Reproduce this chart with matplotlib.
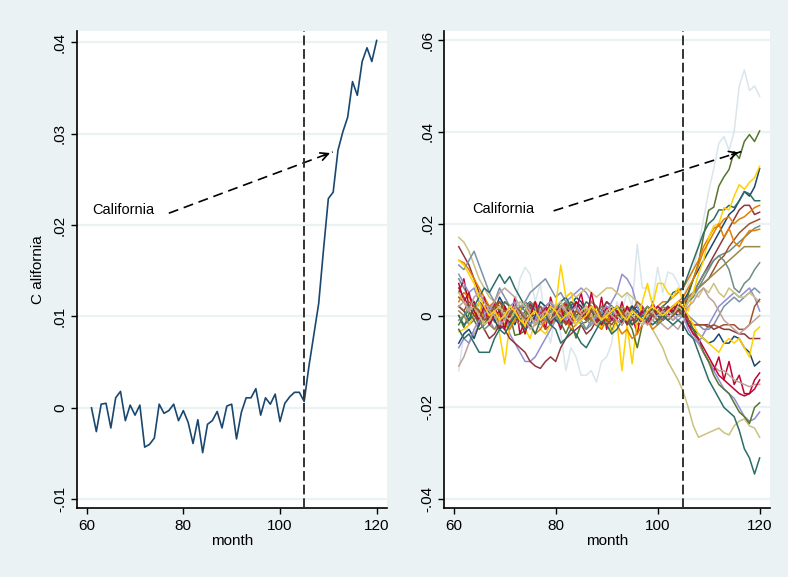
import numpy as np
import matplotlib
matplotlib.use("Agg")
import matplotlib.pyplot as plt

plt.rcParams['font.family'] = ['Liberation Sans', 'DejaVu Sans']

# months shown on both panels
month = np.arange(61, 121)
treat_month = 105

# values are in thousandths (0.001), months 61..104 then 105..120
california = [0, -2.6, 0.4, 0.5, -2.2, 1.1, 1.8, -1.4, 0.3, -0.8,
              0.3, -4.3, -4.0, -3.3, 0.4, -0.6, -0.3, 0.4, -1.4, -0.3,
              -1.6, -3.9, -1.3, -4.9, -1.8, -1.4, -0.4, -2.2, 0.2, 0.4,
              -3.4, -0.5, 1.1, 1.1, 2.1, -0.8, 1.1, 0.4, 1.5, -1.5,
              0.5, 1.2, 1.7, 1.7,
              0.7, 4.6, 8.0, 11.4, 17.3, 22.9, 23.6, 28.2, 30.2, 31.8, 35.7, 34.2, 37.9, 39.4, 37.9, 40.2]

bluishgray = [-12, -4, -2, 3, 1, -2, 2, -1, 4, 1,
              -3, 2, 8, 10.5, 9, 3, 7, -2, -6, 1,
              -4, -12, -7, -9, -13, -13, -12, -14.5, -10, -9,
              -6, 3, 1, 5, 2, 15.5, 6, 6, 3, 10.5,
              5, 9.5, 9, 7,
              4, 7, 10, 15, 21, 27, 32, 37.5, 39, 36, 40, 50, 53.5, 49, 50, 47.7]
gold1 = [-3.5, -3, -2, 0, 3, -2, -1, 1, -4, -10.5,
         -2, -1, 2, -3, -5, -1, -3, -4, -2, 2,
         11, 4, 5, 1, 0, 2, -2, 1, -3, 0,
         -4, -1, -12, -2, -10.5, -1, 3, 7, 2, 7,
         7, 5, 4, 6,
         3, 1, 5, 9, 12, 17, 19.5, 20, 23.5, 23, 26, 28.5, 27.5, 29, 30, 32.5]
gold2 = [12, 11, 9, 7, 4, 2, 0, 1, -1, 0,
         2, 1, -1, -2, 0, 1, -1, 0, 2, 1,
         -1, 0, 1, -2, -1, 0, 2, 1, -1, 0,
         1, 2, 0, -1, 1, 0, -1, 1, 2, 1,
         0, 1, 2, 3,
         2, 0, -2, -4, -5, -6, -7, -8, -6, -5, -6, -5, -7, -9, -3.5, -2.5]
navy1 = [2, 1, -1, 0, 3, 2, -1, 1, 4, 2,
         0, -2, 1, 3, 2, -1, 0, 2, 3, 1,
         -1, 0, 2, 4, 3, 1, -1, 0, 1, 3,
         2, -1, -2, 0, 1, 2, 0, -1, 1, 0,
         1, 2, 1, 2,
         3, 5, 8, 10, 12, 14, 16, 18, 20, 22, 23, 25, 27, 26, 28, 32]
navy2 = [-6, -4, -3, -5, -2, 0, 1, -1, -3, -2,
         0, 2, 1, -1, -2, 0, 3, 2, 1, -1,
         -2, 0, 1, 3, 2, 0, -1, -2, 0, 1,
         2, 1, -1, 0, 2, 1, -1, 0, 1, 0,
         -1, 0, 1, 0,
         0, -2, -3, -4, -5, -6, -5.5, -4, -6, -6, -4.5, -5, -7, -8, -11, -10]
emerald1 = [0, -2, -1, 2, 4, 6, 5, 7, 9, 7,
            8.5, 6, 4, 2, 3, 1, -1, 0, 2, 1,
            3, 4, 2, 0, 1, 3, 2, 0, -1, 1,
            0, 2, 1, -1, 0, 1, 0, 2, 1, 1,
            2, 3, 5, 5.5,
            6, 9, 12, 15, 18, 20, 21, 23, 23, 24, 23.5, 25, 27, 26.5, 25, 25]
emerald2 = [-3, -5, -4, -6, -8, -8, -8, -5, -3, -4,
            -2, 0, -1, -3, -2, -4, -1, 0, -2, -3,
            -6, -5, -3, -4, -6, -7, -5, -3, -1, -2,
            -4, -3, -1, 0, -2, -1, 0, -1, -2, -1,
            0, -1, -2, -1,
            -2, -4, -5, -8, -11, -14, -16, -18, -20, -21, -22, -25, -29, -31, -34.5, -31]
maroon1 = [15, 13, 11, 8, 5, 3, 2, 1, 3, 2,
           0, -1, 1, 2, 0, -2, -1, 1, 2, 0,
           1, -1, -2, 0, 1, 2, 0, -1, 1, 3,
           2, 0, -1, 1, 0, -2, -1, 0, 1, 0,
           2, 1, 2, 2,
           3, 4, 5, 7, 9, 11, 13, 15, 17, 19, 21, 23, 24, 24, 22, 22.5]
maroon2 = [6, 4, 2, 0, -1, -3, -5, -4, -2, -3,
           -5, -6, -7, -8, -10, -11, -11.5, -10, -9, -10,
           -7, -5, -4, -3, -2, -4, -3, -1, 0, -2,
           -1, 1, 0, -2, -1, 0, 1, -1, 0, 1,
           0, 2, 1, 2,
           2, -1, -2, -2, -2, -2, -3, -2.5, -3, -3, -3.5, -4, -4, -5, -5, -5]
dkorange1 = [12, 11.5, 10, 8, 6, 4, 2, 3, 1, 0,
             2, 1, -1, 0, 2, 3, 1, 0, -1, 1,
             2, 0, 1, 3, 2, 0, -1, 1, 2, 0,
             -1, 1, 0, 2, 1, 0, -1, 0, 1, 2,
             3, 3, 4, 5,
             6, 8, 10, 12, 15, 17, 19, 19.5, 21, 21.5, 20, 21, 21.5, 22.5, 23.5, 24]
dkorange2 = [3, 5, 4, 2, 0, -2, -1, 1, 0, -2,
             -3, -1, 1, 0, -2, -4, -3, -1, 0, 2,
             1, -1, -3, -2, 0, 1, -1, -2, -3, -1,
             0, -2, -4, -3, -5, -4, -2, -1, -3, -2,
             0, 1, 2, 3,
             4, 6, 8, 11, 14, 16, 18, 20, 17, 19, 16, 15, 17, 18.5, 18.5, 18.8]
sienna1 = [4, 3, 1, 2, 0, -1, 1, 3, 2, 0,
           -2, -1, 1, 0, 2, 1, -1, -3, -2, 0,
           1, 3, 2, 0, -1, 1, 2, 0, -2, -1,
           1, 2, 0, -1, 1, 3, 2, 0, 1, 0,
           -1, 0, 1, 1,
           2, 4, 5, 6, 7, 8, 10, 12, 13, 15, 16.5, 18, 19, 20, 20.5, 21]
sienna2 = [2, 1, 3, 2, 1, -1, 0, 2, 3, 1,
           0, 2, 1, -1, 0, 1, 2, 0, -1, 1,
           0, -2, -1, 1, 0, -1, 1, 2, 0, -1,
           -2, 0, 1, -1, -2, 0, -1, 1, 0, -1,
           0, -1, 0, 1,
           0, -1, -2, -2, -2, -2.5, -2, -2.5, -2, -2, -2, -3, -3, -2, 2, 3.5]
teal1 = [8, 6, 4, 3, 1, 2, 0, -1, 1, 3,
         2, 0, 1, -1, -2, 0, 2, 1, -1, 0,
         2, 3, 1, -1, 0, 2, 1, -1, -2, 0,
         1, 0, -1, 1, 2, 0, -1, 0, 1, 0,
         -1, 0, 1, 0,
         1, 3, 5, 7, 9, 10.5, 12, 13, 13.5, 14, 15, 16, 17, 18, 19, 19.5]
teal2 = [-1, 0, 2, 1, -1, -3, -2, 0, 1, -1,
         -2, 0, 2, 1, 3, 2, 0, -1, 1, 0,
         -2, -1, 1, 0, -2, -3, -1, 0, 2, 1,
         -1, 0, 1, -1, -2, -1, 1, 0, -1, -2,
         -1, 0, -1, 0,
         1, 3, 4, 6, 8, 10, 12, 13, 12, 10, 6, 5, 7, 8, 10, 11.5]
brown = [1, 0, -2, -1, 1, 0, -2, -3, -1, 0,
         1, -1, -2, 0, 1, 2, 0, -1, -2, -1,
         0, 2, 1, -1, 0, 1, 3, 2, 0, 1,
         -1, 0, 2, 1, -1, 0, 1, 2, 0, 1,
         2, 1, 2, 3,
         3, 4, 5, 6, 7, 8, 9, 10, 11, 12, 13, 14, 15, 15, 15, 15]
cranberry1 = [5, 8, 2, 3, -2, 4, -1, 3, -3, 2,
              -2, 4, -4, -1, 3, -2, 1, -3, 4, 0,
              -3, 3, -2, 1, 5, -1, 2, -2, 4, -3,
              2, -1, 3, -2, 0, -4, 2, -1, 3, 0,
              -1, 2, 0, 3,
              3, -1, -3, -6, -8, -10, -12, -9, -14, -10, -15, -13, -17, -17, -14, -12.5]
cranberry2 = [7, 3, 5, 1, -1, 2, -2, 0, 1, -3,
              1, 2, -1, -4, 0, 3, -1, 2, -2, 1,
              2, -2, 0, 3, 1, -1, 5, 0, -2, 2,
              -1, 1, -2, 2, 0, -1, 1, -2, 0, 2,
              1, 0, 2, 1,
              2, -2, -4, -5, -7, -9, -11, -13, -14, -15, -16, -17, -17.5, -17, -16, -14]
lavender1 = [9, 7, 5, 6, 3, 1, -1, -3, -2, 0,
             -4, -6, -8, -10, -10, -9, -7, -5, -3, -1,
             1, 3, 4, 5, 6, 5, 3, 2, 0, 1,
             3, 5, 9, 8, 6, 2, -1, 0, 1, 2,
             1, 0, 1, 2,
             1, -2, -4, -6, -8, -10, -12, -14, -16, -17, -18, -20, -22, -23, -22.5, -21]
lavender2 = [-7, -5, -6, -3, -1, 0, 2, 1, -1, 0,
             2, 3, 1, 0, -2, -1, 1, 2, 3, 1,
             0, -1, 1, 2, 0, -1, -2, 0, 1, 2,
             1, 0, -1, 1, 0, -1, 0, 1, 0, -1,
             0, 1, 0, -1,
             0, -3, -5, -6, -4, -2, 0, 2, 3, 4, 5, 4, 5, 6, 4, 1]
khaki1 = [17, 16, 14, 11, 8, 6, 4, 3, 2, 1,
          0, 2, 1, 0, -1, 0, 1, 2, 3, 2,
          3, 4, 5, 4, 5, 6, 5, 4, 5, 6,
          6, 5, 4, 5, 4, 3, 1, -1, -3, -5,
          -7, -10, -12, -14,
          -16.5, -20, -24, -26.5, -26, -25.5, -25, -24.5, -25.5, -26, -24, -23, -22.5, -24, -24.5, -26.5]
khaki2 = [5, 3, 1, 2, 0, -2, -1, 1, 2, 0,
          -1, 1, 3, 2, 0, -2, -1, 1, 0, 2,
          3, 1, 0, -1, 1, 2, 0, -2, -1, 1,
          2, 0, -1, 1, 0, -1, -2, 0, 1, -1,
          0, 1, 0, 2,
          1, 3, 5, 4, 6, 5, 7, 5, 4, 6, 5, 4, 4, 5, 4, 3]
forest2 = [-2, 0, 1, -1, -3, -2, 0, 2, 1, 3,
           2, 0, -1, 1, 0, -2, -1, 1, 2, 0,
           -1, 1, 3, 2, 0, -1, 1, 0, -2, -1,
           0, 2, 1, -1, -3, -7, -2, 0, 1, -1,
           0, -1, 0, 1,
           1, -1, -3, -5, -8, -10, -13, -15, -16, -17, -19, -21, -22, -23.5, -20, -19]
erose1 = [-11, -9, -6, -4, -2, -1, 1, 3, 5, 6,
          5, 4, 2, 3, 1, 0, -2, -1, 1, 2,
          0, -1, 1, 3, 2, 0, -1, -2, 0, 1,
          -1, 0, 1, 0, -1, 0, 1, -1, -2, -1,
          -2, -3, -2, -3,
          -1, -2, -4, -6, -8, -10, -11, -12, -12, -13, -14, -14.5, -15, -15.5, -15, -15]
erose2 = [2, 3, 1, 4, 5, 3, 1, 0, -2, -1,
          1, 2, 0, -1, -3, -2, 0, 1, -1, 0,
          2, 1, -1, -2, 0, 1, 2, 0, -1, 1,
          0, -1, -2, 0, 1, 0, -1, -2, -1, 0,
          1, 0, -1, 0,
          0, 2, 3, 5, 6, 4, 3, 1, -1, -2, -3, -4, -3, -2, -1, 0]
emidblue = [11, 10, 12, 14, 11, 8, 5, 3, 6, 4,
            2, 0, 1, 3, 5, 6, 7, 8, 6, 4,
            5, 3, 2, 0, -1, -3, -2, 0, 1, -1,
            0, 2, 1, -1, 0, 1, -1, 0, 1, 0,
            -1, 0, 1, 0,
            1, 0, -1, -2, -3, -3, -2, 0, 2, 3, 4, 3, 4, 5, 6, 5]

left_yticks = [-0.01, 0, 0.01, 0.02, 0.03, 0.04]
left_ylabels = ['-.01', '0', '.01', '.02', '.03', '.04']
right_yticks = [-0.04, -0.02, 0, 0.02, 0.04, 0.06]
right_ylabels = ['-.04', '-.02', '0', '.02', '.04', '.06']
xticks = [60, 80, 100, 120]

# stata s2color palette order
states = [
    (bluishgray, '#d9e6eb'), (navy1, '#1a476f'), (maroon1, '#90353b'),
    (california, '#55752f'), (dkorange1, '#e37e00'), (teal1, '#6e8e84'),
    (cranberry1, '#c10534'), (lavender1, '#938dd2'), (khaki1, '#cac27e'),
    (sienna1, '#a0522d'), (emidblue, '#7b92a8'), (emerald1, '#2d6d66'),
    (brown, '#9c8847'), (erose1, '#bfa19c'), (gold1, '#ffd200'),
    (navy2, '#1a476f'), (maroon2, '#90353b'), (forest2, '#55752f'),
    (dkorange2, '#e37e00'), (teal2, '#6e8e84'), (cranberry2, '#c10534'),
    (lavender2, '#938dd2'), (khaki2, '#cac27e'), (sienna2, '#a0522d'),
    (emerald2, '#2d6d66'), (erose2, '#bfa19c'), (gold2, '#ffd200'),
]

bg = '#eaf2f3'
fig = plt.figure(figsize=(7.88, 5.77), dpi=100, facecolor=bg)
axL = fig.add_axes([0.0973, 0.1191, 0.3934, 0.8272])
axR = fig.add_axes([0.5638, 0.1191, 0.4129, 0.8272])


def style(ax, yt, yl):
    ax.set_facecolor('white')
    for s in ['top', 'right']:
        ax.spines[s].set_visible(False)
    for s in ['left', 'bottom']:
        ax.spines[s].set_color('black')
        ax.spines[s].set_linewidth(1.2)
    ax.set_xticks(xticks)
    ax.set_yticks(yt)
    ax.set_yticklabels(yl, rotation=90, va='center')
    ax.tick_params(axis='both', labelsize=11, length=4, width=1.0, color='black')
    ax.tick_params(axis='y', pad=3)
    for y in yt:
        ax.axhline(y, color=bg, lw=1.6, zorder=0)
    ax.axvline(treat_month, color='#333333', lw=1.4, ls=(0, (5, 2)), zorder=5)
    ax.set_xlabel('month', fontsize=11, labelpad=1)
    ax.set_xlim(57.93, 122.07)


# left panel: California only
style(axL, left_yticks, left_ylabels)
axL.plot(month, np.array(california) / 1000, color='#1a476f', lw=1.2, zorder=3)
axL.set_ylim(-0.01099, 0.04124)
axL.set_ylabel('C alifornia', fontsize=11, labelpad=6)
axL.text(61.1, 0.0216, 'California', fontsize=10.5, va='center', ha='left')
axL.plot([77.0, 110.9], [0.0213, 0.028], color='black', lw=1.2, ls=(0, (6, 3.5)))
axL.annotate('', xy=(110.9, 0.028), xytext=(108.5, 0.0275),
             arrowprops=dict(arrowstyle='->', lw=1.2, color='black', mutation_scale=14))

# right panel: all states
style(axR, right_yticks, right_ylabels)
axR.set_xlim(58.16, 121.96)
for vals, col in states:
    axR.plot(month, np.array(vals) / 1000, color=col, lw=1.1, zorder=3)
axR.set_ylim(-0.04196, 0.06196)
axR.text(63.7, 0.0232, 'California', fontsize=10.5, va='center', ha='left')
axR.plot([79.6, 116.4], [0.0228, 0.0357], color='black', lw=1.2, ls=(0, (6, 3.5)), zorder=6)
axR.annotate('', xy=(116.4, 0.0357), xytext=(114.0, 0.0349),
             arrowprops=dict(arrowstyle='->', lw=1.2, color='black', mutation_scale=14), zorder=6)

fig.savefig('out.png', dpi=100, facecolor=bg)
